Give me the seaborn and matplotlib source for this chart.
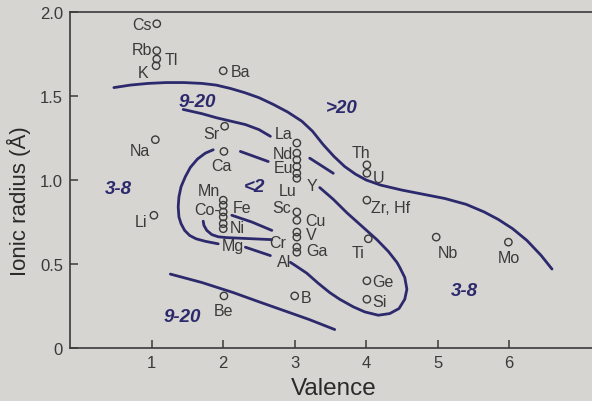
import matplotlib
matplotlib.use("Agg")
import matplotlib.pyplot as plt
import seaborn as sns

# element positions: valence (x) and ionic radius in Angstrom (y)
elements = ["Cs", "Rb", "Tl", "K", "Na", "Li",
            "Ba", "Sr", "Ca", "Mn", "Fe", "Co-", "", "Ni", "Mg", "Be",
            "La", "Nd", "", "Eu", "Y", "Lu", "Sc", "Cu", "V", "Cr", "Ga", "Al", "B",
            "Th", "U", "Zr, Hf", "Ti", "Ge", "Si", "Nb", "Mo"]
valence = [1.07, 1.07, 1.07, 1.06, 1.05, 1.03,
           2.00, 2.02, 2.01, 2.00, 2.00, 2.00, 2.00, 2.00, 2.00, 2.01,
           3.03, 3.03, 3.03, 3.03, 3.03, 3.03, 3.03, 3.03, 3.03, 3.03, 3.03, 3.03, 3.00,
           4.01, 4.01, 4.01, 4.03, 4.01, 4.01, 4.98, 5.99]
radius = [1.93, 1.77, 1.72, 1.68, 1.24, 0.79,
          1.65, 1.32, 1.17, 0.88, 0.85, 0.81, 0.78, 0.74, 0.71, 0.31,
          1.22, 1.16, 1.12, 1.08, 1.04, 1.01, 0.81, 0.76, 0.69, 0.66, 0.60, 0.57, 0.31,
          1.09, 1.04, 0.88, 0.65, 0.40, 0.29, 0.66, 0.63]

# hand drawn field boundaries (valence, radius)
top_v = [0.47, 0.70, 0.95, 1.20, 1.45, 1.70, 1.90, 2.10, 2.30, 2.50, 2.70, 2.90,
         3.10, 3.25, 3.40, 3.55, 3.70, 3.85, 4.00, 4.20, 4.50, 4.80, 5.10, 5.40,
         5.65, 5.85, 6.05, 6.25, 6.45, 6.60]
top_r = [1.55, 1.565, 1.575, 1.58, 1.58, 1.575, 1.565, 1.545, 1.52, 1.49, 1.45, 1.405,
         1.35, 1.29, 1.21, 1.14, 1.08, 1.035, 1.00, 0.97, 0.94, 0.915, 0.89, 0.855,
         0.81, 0.765, 0.71, 0.64, 0.55, 0.47]
band_v = [1.44, 1.70, 1.91, 2.11, 2.31, 2.50, 2.66]
band_r = [1.42, 1.395, 1.37, 1.35, 1.33, 1.30, 1.26]
caeu_v = [2.24, 2.63]
caeu_r = [1.17, 1.11]
euy_v = [3.21, 3.54]
euy_r = [1.13, 1.04]
loop_v = [1.86, 1.75, 1.64, 1.54, 1.47, 1.41, 1.38, 1.37, 1.38, 1.41, 1.46, 1.53,
          1.62, 1.75, 1.93]
loop_r = [1.18, 1.16, 1.125, 1.075, 1.02, 0.96, 0.90, 0.84, 0.78, 0.74, 0.70, 0.67,
          0.65, 0.635, 0.62]
mgal_v = [2.31, 2.66]
mgal_r = [0.60, 0.55]
tail_v = [2.94, 3.03, 3.17, 3.33, 3.49, 3.63, 3.82, 3.98, 4.17, 4.33, 4.46, 4.54,
          4.57, 4.54, 4.47, 4.43, 4.31, 4.15, 3.94, 3.73, 3.54, 3.35]
tail_r = [0.51, 0.485, 0.445, 0.385, 0.33, 0.29, 0.245, 0.215, 0.195, 0.205, 0.235, 0.29,
          0.35, 0.42, 0.48, 0.51, 0.575, 0.645, 0.725, 0.805, 0.885, 0.955]
hook_v = [1.72, 1.73, 1.77, 1.84, 1.93, 2.05, 2.68]
hook_r = [0.755, 0.73, 0.70, 0.675, 0.662, 0.657, 0.645]
fecr_v = [2.12, 2.40, 2.68]
fecr_r = [0.79, 0.75, 0.70]
low_v = [1.26, 1.70, 2.14, 2.50, 2.80, 3.20, 3.56]
low_r = [0.44, 0.39, 0.33, 0.275, 0.23, 0.17, 0.11]

fields = ["9-20", ">20", "3-8", "<2", "3-8", "9-20"]
field_v = [1.63, 3.66, 0.53, 2.44, 5.38, 1.43]
field_r = [1.47, 1.43, 0.95, 0.96, 0.34, 0.19]

# label placement next to each circle: (dx px, dy px, ha)
label_pos = [(-5, -1, "right"), (-5, 1, "right"), (8, 0, "left"), (-8, -7, "right"),
             (-5, -11, "right"), (-7, -6, "right"),
             (8, -1, "left"), (-5, -7, "right"), (-3, -14, "center"), (-3, 10, "right"),
             (10, -2, "left"), (-3, 2, "right"), (0, 0, "left"), (7, -4, "left"),
             (10, -17, "center"), (0, -15, "center"),
             (-4, 10, "right"), (-4, 0, "right"), (0, 0, "left"), (-4, -1, "right"),
             (10, -12, "left"), (0, -12, "right"), (-6, 4, "right"), (8, 0, "left"),
             (9, -2, "left"), (-11, -5, "right"), (9, -3, "left"), (-6, -9, "right"),
             (6, -2, "left"),
             (-6, 12, "center"), (6, -4, "left"), (4, -7, "left"), (-4, -14, "right"),
             (5, -1, "left"), (5, -2, "left"), (2, -15, "left"), (0, -15, "center")]

bg = "#d7d5d1"
ink = "#3a3a3a"
navy = "#2c2a6c"

sns.set_theme(style="ticks")
plt.rcParams["font.family"] = ["Liberation Sans", "DejaVu Sans"]

fig = plt.figure(figsize=(5.92, 4.02), dpi=100, facecolor=bg)
ax = fig.add_axes([70 / 592, 1 - 349 / 402, 522 / 592, 336 / 402])
ax.set_facecolor(bg)

curves = [(top_v, top_r), (band_v, band_r), (caeu_v, caeu_r), (euy_v, euy_r),
          (loop_v, loop_r), (mgal_v, mgal_r), (tail_v, tail_r), (hook_v, hook_r),
          (fecr_v, fecr_r), (low_v, low_r)]
for cx, cy in curves:
    sns.lineplot(x=cx, y=cy, sort=False, estimator=None, color=navy, lw=2.0, ax=ax)

sns.scatterplot(x=valence, y=radius, marker="o", s=28, facecolors="none",
                edgecolor=ink, linewidth=1.0, ax=ax, zorder=3)

for name, x, y, (dx, dy, ha) in zip(elements, valence, radius, label_pos):
    if name:
        ax.annotate(name, (x, y), xytext=(dx, dy), textcoords="offset pixels",
                    ha=ha, va="center", fontsize=11.5, color=ink)

for s, x, y in zip(fields, field_v, field_r):
    ax.text(x, y, s, ha="center", va="center", fontsize=13.5, fontweight="bold",
            fontstyle="italic", color=navy)

ax.set_xlim(-0.144, 7.16)
ax.set_ylim(0, 2.0)
ax.set_xticks([1, 2, 3, 4, 5, 6])
ax.set_yticks([0, 0.5, 1.0, 1.5, 2.0])
ax.set_yticklabels(["0", "0.5", "1.0", "1.5", "2.0"])
ax.tick_params(direction="in", length=6, width=1.1, colors=ink, labelsize=12, pad=5)
for side in ["left", "bottom", "top"]:
    ax.spines[side].set_color(ink)
    ax.spines[side].set_linewidth(1.2)
ax.spines["right"].set_visible(False)

ax.set_xlabel("Valence", fontsize=17.5, color="#2a2a2a")
ax.set_ylabel("Ionic radius (Å)", fontsize=16, color="#2a2a2a")
ax.xaxis.set_label_coords(0.506, -0.085)
ax.yaxis.set_label_coords(-0.075, 0.44)

fig.savefig("out.png", dpi=100, facecolor=bg)
